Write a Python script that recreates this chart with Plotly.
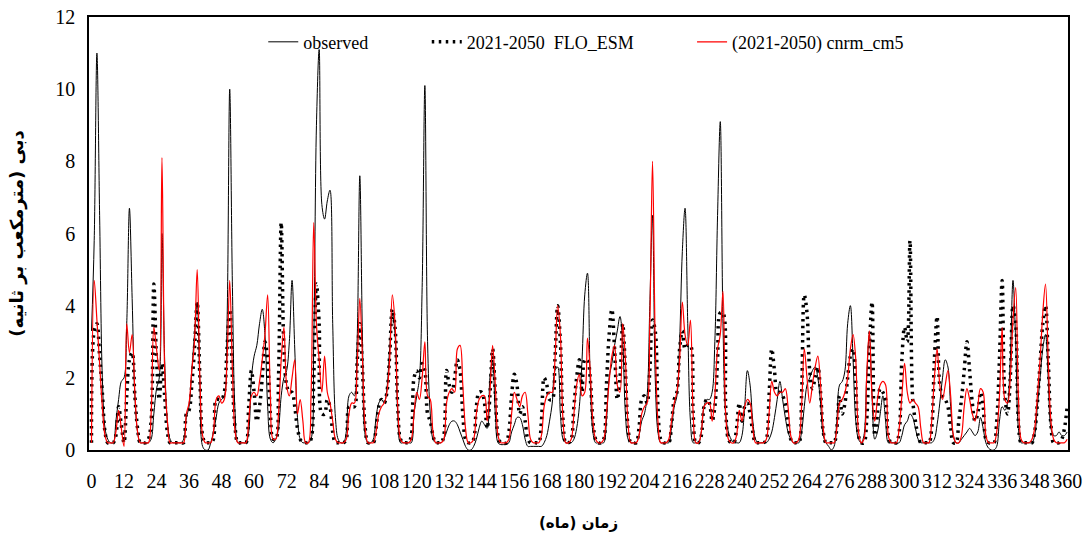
import plotly.graph_objects as go

months = list(range(361))

observed = [
    3.3, 5.8, 11.0, 6.5, 2.0, 0.6, 0.3, 0.2, 0.2, 0.8, 1.4, 1.9,
    2.0, 3.5, 6.7, 4.2, 1.5, 0.5, 0.2, 0.2, 0.2, 0.2, 0.3, 1.0,
    1.7, 2.0, 6.0, 2.5, 0.8, 0.3, 0.2, 0.2, 0.2, 0.2, 0.3, 0.9,
    1.2, 2.2, 3.2, 4.1, 1.8, 0.1, 0.0, 0.0, 0.2, 0.5, 0.9, 1.3,
    1.4, 1.5, 3.5, 10.0, 4.5, 1.0, 0.2, 0.2, 0.2, 0.2, 0.5, 2.0,
    2.6, 2.9, 3.5, 3.9, 3.2, 1.2, 0.3, 0.2, 0.3, 0.6, 1.5, 2.0,
    2.2, 3.0, 4.7, 2.8, 0.9, 0.3, 0.2, 0.2, 0.2, 0.3, 3.0, 9.0,
    11.1, 6.8, 6.4, 6.9, 7.2, 3.5, 0.9, 0.3, 0.2, 0.2, 0.5, 1.5,
    1.6, 1.5, 3.0, 7.6, 3.0, 0.4, 0.2, 0.2, 0.3, 0.9, 1.3, 1.4,
    1.3, 1.7, 2.8, 3.8, 3.2, 1.0, 0.2, 0.2, 0.2, 0.2, 0.2, 1.0,
    1.5, 2.0, 4.5, 10.1, 3.0, 1.0, 0.3, 0.2, 0.2, 0.2, 0.3, 0.5,
    0.7, 0.8, 0.8, 0.7, 0.5, 0.3, 0.1, 0.0, 0.0, 0.1, 0.3, 0.6,
    0.8, 0.7, 0.6, 2.0, 2.5, 1.0, 0.2, 0.15, 0.15, 0.15, 0.2, 0.5,
    0.7, 0.9, 0.9, 0.7, 0.3, 0.1, 0.1, 0.1, 0.1, 0.1, 0.1, 0.2,
    0.4, 0.8, 1.3, 2.2, 2.3, 1.0, 0.3, 0.2, 0.2, 0.2, 0.3, 0.6,
    1.2, 2.5, 4.3, 4.9, 2.0, 0.5, 0.2, 0.2, 0.2, 0.2, 0.8, 2.0,
    2.4, 2.9, 3.3, 3.7, 3.0, 1.0, 0.3, 0.2, 0.2, 0.2, 0.4, 0.8,
    1.0, 1.5, 4.0, 6.5, 2.0, 0.5, 0.2, 0.2, 0.2, 0.2, 0.6, 1.2,
    1.5, 3.0, 5.5, 6.7, 3.5, 0.8, 0.2, 0.2, 0.2, 0.5, 1.2, 1.4,
    1.4, 1.6, 3.0, 6.5, 9.1, 3.5, 1.0, 0.5, 0.3, 0.2, 0.2, 0.2,
    0.4, 1.2, 2.2, 1.8, 0.8, 0.3, 0.2, 0.2, 0.2, 0.2, 0.3, 0.5,
    0.9, 1.4, 1.9, 1.4, 0.9, 0.5, 0.3, 0.2, 0.2, 0.2, 0.5, 1.2,
    1.8, 2.0, 2.2, 2.3, 2.0, 1.3, 0.4, 0.2, 0.1, 0.0, 0.1, 0.8,
    1.8, 1.9, 2.2, 3.5, 4.0, 2.5, 0.8, 0.3, 0.2, 0.4, 2.0, 3.2,
    1.5, 0.3, 0.5, 1.0, 1.5, 0.8, 0.2, 0.2, 0.2, 0.2, 0.2, 0.4,
    0.7, 0.8, 1.0, 0.9, 0.6, 0.3, 0.2, 0.2, 0.2, 0.2, 0.2, 0.3,
    0.7, 1.3, 2.0, 2.5, 2.3, 1.2, 0.4, 0.2, 0.2, 0.3, 0.4, 0.5,
    0.6, 0.5, 0.4, 0.5, 0.9, 0.6, 0.2, 0.05, 0.0, 0.0, 0.1, 0.8,
    1.2, 1.1, 1.3, 2.5, 4.7, 3.0, 0.6, 0.2, 0.2, 0.2, 0.2, 0.2,
    0.4, 1.2, 2.0, 2.8, 3.2, 2.0, 0.6, 0.4, 0.4, 0.5, 0.4, 0.4,
    0.5,
]

flo_esm = [
    0.2, 3.3, 3.5, 2.6, 1.6, 0.5, 0.2, 0.2, 0.2, 0.4, 1.2, 0.7,
    0.2, 1.5, 2.5, 2.7, 1.5, 0.6, 0.2, 0.2, 0.2, 0.3, 0.8, 4.6,
    2.5, 1.4, 2.4, 1.5, 0.5, 0.2, 0.2, 0.2, 0.2, 0.2, 0.2, 1.0,
    1.1, 1.8, 2.8, 4.1, 2.0, 0.4, 0.2, 0.2, 0.2, 0.3, 1.4, 1.4,
    1.4, 1.6, 2.8, 3.9, 2.0, 0.6, 0.2, 0.2, 0.2, 0.2, 1.2, 2.2,
    1.6, 0.8, 1.2, 2.0, 3.0, 2.5, 1.0, 0.3, 0.3, 2.0, 6.3, 2.8,
    1.8, 1.6, 1.6, 1.2, 0.6, 0.3, 0.2, 0.2, 0.2, 0.3, 2.0, 4.6,
    3.5, 1.0, 1.0, 1.4, 1.2, 0.5, 0.2, 0.2, 0.2, 0.2, 0.3, 1.2,
    1.2, 1.2, 2.4, 3.5, 2.2, 0.6, 0.2, 0.2, 0.2, 0.6, 1.2, 1.4,
    1.3, 1.6, 2.6, 3.9, 3.4, 1.2, 0.3, 0.2, 0.2, 0.2, 0.4, 2.0,
    2.2, 2.0, 2.4, 2.2, 1.0, 0.8, 0.4, 0.2, 0.2, 0.2, 0.4, 2.2,
    1.8, 1.6, 2.0, 2.5, 2.2, 1.0, 0.3, 0.2, 0.2, 0.3, 1.2, 1.6,
    1.6, 1.3, 0.6, 1.5, 2.8, 1.6, 0.4, 0.2, 0.2, 0.2, 0.5, 1.5,
    2.1, 1.8, 1.0, 1.2, 0.8, 0.3, 0.2, 0.2, 0.2, 0.2, 0.8, 2.0,
    1.8, 1.4, 1.4, 2.5, 4.0, 3.0, 0.8, 0.2, 0.2, 0.3, 1.2, 2.0,
    2.5, 1.6, 2.5, 2.5, 2.0, 0.8, 0.3, 0.2, 0.2, 0.3, 1.8, 3.2,
    3.9, 2.8, 1.4, 2.0, 3.5, 2.2, 0.6, 0.2, 0.2, 0.2, 0.6, 1.4,
    1.5, 1.3, 2.2, 3.6, 3.3, 1.2, 0.3, 0.2, 0.2, 0.2, 0.7, 1.4,
    1.6, 2.8, 3.3, 2.8, 2.9, 2.9, 1.0, 0.2, 0.2, 0.4, 1.2, 1.4,
    1.3, 0.8, 1.2, 2.5, 3.8, 3.8, 1.2, 0.3, 0.2, 0.2, 0.6, 1.3,
    0.8, 1.2, 1.3, 1.0, 0.5, 0.2, 0.2, 0.2, 0.2, 0.3, 1.5, 2.8,
    2.2, 1.6, 1.6, 1.5, 1.3, 0.8, 0.3, 0.2, 0.2, 0.2, 1.5, 4.3,
    3.8, 2.2, 1.7, 2.0, 2.3, 1.6, 0.5, 0.2, 0.2, 0.2, 0.2, 0.6,
    1.5, 1.0, 1.3, 2.0, 2.6, 2.8, 1.8, 0.4, 0.2, 0.2, 0.8, 2.8,
    4.1, 0.4, 1.0, 1.7, 1.6, 1.4, 0.4, 0.2, 0.2, 0.2, 0.5, 2.5,
    3.4, 3.0, 5.8, 1.4, 0.8, 0.4, 0.2, 0.2, 0.2, 0.2, 0.6, 2.5,
    3.7, 1.8, 1.5, 1.4, 1.2, 0.6, 0.2, 0.2, 0.8, 1.4, 2.2, 3.0,
    2.2, 1.3, 0.8, 1.0, 1.6, 1.2, 0.3, 0.2, 0.2, 0.2, 0.8, 2.5,
    4.7, 1.5, 1.0, 2.0, 4.0, 3.5, 0.8, 0.2, 0.2, 0.2, 0.2, 0.2,
    0.5, 1.3, 2.4, 3.5, 4.0, 2.5, 0.7, 0.2, 0.2, 0.2, 0.3, 0.6,
    1.2,
]

cnrm_cm5 = [
    0.2, 4.7, 3.6, 2.4, 1.2, 0.4, 0.2, 0.2, 0.2, 0.5, 1.1, 0.6,
    0.1, 3.5, 2.7, 3.2, 1.6, 0.5, 0.2, 0.2, 0.2, 0.2, 1.0, 3.4,
    2.8, 2.2, 8.1, 2.2, 0.8, 0.2, 0.2, 0.2, 0.2, 0.2, 0.2, 1.0,
    1.3, 2.2, 3.0, 5.0, 2.0, 0.4, 0.2, 0.2, 0.2, 0.5, 1.4, 1.5,
    1.3, 1.4, 2.5, 4.7, 2.2, 0.5, 0.2, 0.2, 0.2, 0.2, 0.8, 1.5,
    1.6, 1.5, 1.9, 2.5, 3.2, 4.3, 1.5, 0.3, 0.3, 1.0, 2.5, 3.4,
    1.8, 1.5, 2.0, 2.5, 1.0, 1.4, 0.8, 0.2, 0.2, 1.5, 6.3, 3.5,
    2.5, 1.6, 2.6, 1.6, 1.3, 0.8, 0.3, 0.2, 0.2, 0.2, 0.3, 1.0,
    1.3, 1.3, 2.3, 4.2, 2.5, 0.6, 0.2, 0.2, 0.2, 0.5, 1.0, 1.2,
    1.3, 1.6, 2.5, 4.3, 3.5, 1.2, 0.3, 0.2, 0.2, 0.2, 0.3, 1.0,
    1.6, 1.4, 2.0, 3.0, 1.5, 1.4, 0.5, 0.2, 0.2, 0.2, 0.3, 1.3,
    1.6, 1.7, 1.6, 2.8, 2.9, 1.8, 0.6, 0.2, 0.2, 0.3, 1.0, 1.4,
    1.5, 1.5, 0.8, 1.6, 2.9, 1.8, 0.4, 0.2, 0.2, 0.2, 0.3, 1.0,
    1.6, 1.4, 1.2, 1.5, 1.6, 1.0, 0.3, 0.2, 0.2, 0.2, 0.4, 1.2,
    1.5, 1.6, 1.6, 2.5, 4.0, 3.2, 0.8, 0.2, 0.2, 0.3, 1.0, 1.8,
    2.1, 1.5, 1.6, 3.1, 2.2, 0.8, 0.3, 0.2, 0.2, 0.3, 1.0, 1.9,
    2.6, 2.9, 1.8, 1.6, 3.5, 2.5, 0.7, 0.2, 0.2, 0.2, 0.4, 1.0,
    1.2, 1.3, 3.5, 8.0, 3.0, 0.8, 0.2, 0.2, 0.2, 0.3, 0.8, 1.3,
    1.6, 2.5, 4.1, 3.2, 2.9, 3.6, 1.0, 0.2, 0.2, 0.5, 1.2, 1.3,
    1.3, 0.8, 1.5, 2.8, 3.2, 4.4, 1.0, 0.3, 0.2, 0.2, 0.4, 1.1,
    0.8, 1.2, 1.4, 1.3, 0.6, 0.2, 0.2, 0.2, 0.2, 0.3, 1.0, 1.9,
    1.6, 1.5, 1.6, 1.6, 1.7, 1.2, 0.4, 0.2, 0.2, 0.3, 1.2, 2.8,
    2.0, 1.3, 1.8, 2.3, 2.6, 1.8, 0.6, 0.2, 0.2, 0.2, 0.2, 0.6,
    1.3, 1.4, 1.6, 2.0, 2.8, 3.2, 2.5, 0.5, 0.2, 0.3, 2.0, 3.3,
    1.5, 0.8, 1.4, 1.8, 1.9, 1.8, 0.4, 0.2, 0.2, 0.2, 0.6, 1.5,
    2.4, 1.6, 1.3, 1.4, 1.3, 1.2, 0.6, 0.2, 0.2, 0.2, 0.8, 2.0,
    2.8, 1.8, 1.4, 1.8, 2.2, 1.5, 0.4, 0.2, 0.2, 0.4, 1.2, 1.7,
    1.4, 1.0, 0.8, 1.2, 1.7, 1.6, 0.4, 0.2, 0.2, 0.2, 0.5, 1.5,
    3.4, 1.4, 1.3, 2.0, 3.6, 4.5, 1.5, 0.3, 0.2, 0.2, 0.2, 0.3,
    0.6, 1.5, 2.5, 3.8, 4.6, 2.5, 0.8, 0.3, 0.2, 0.2, 0.2, 0.2,
    0.3,
]

x_ticks = list(range(0, 361, 12))
x_ticklabels = [str(v) for v in x_ticks]
y_ticks = [0, 2, 4, 6, 8, 10, 12]

series_names = ["observed", "2021-2050\u00a0\u00a0FLO_ESM", "(2021-2050) cnrm_cm5"]
x_title = "زمان (ماه)"
y_title = "دبی (مترمکعب بر ثانیه)"

FONT = "Liberation Serif, Times New Roman, serif"
AR_FONT = "DejaVu Sans, Noto Sans, sans-serif"

fig = go.Figure()
fig.add_trace(go.Scatter(
    x=months, y=observed, mode="lines", name=series_names[0], legend="legend",
    line=dict(color="black", width=1, shape="spline"),
))
fig.add_trace(go.Scatter(
    x=months, y=flo_esm, mode="lines", name=series_names[1], legend="legend2",
    line=dict(color="black", width=3.5, dash="2.5px,4.5px", shape="spline"),
))
fig.add_trace(go.Scatter(
    x=months, y=cnrm_cm5, mode="lines", name=series_names[2], legend="legend3",
    line=dict(color="#ff0000", width=1.2, shape="spline"),
))

leg_common = dict(yanchor="middle", xanchor="left", y=0.942,
                  bgcolor="rgba(0,0,0,0)", borderwidth=0,
                  font=dict(family=FONT, size=18, color="black"))

fig.update_layout(
    width=1089, height=540,
    margin=dict(l=89, r=21, t=17, b=90, autoexpand=False),
    paper_bgcolor="white", plot_bgcolor="white",
    showlegend=True,
    legend=dict(x=0.178, **leg_common),
    legend2=dict(x=0.345, **leg_common),
    legend3=dict(x=0.616, **leg_common),
    xaxis=dict(
        range=[-0.92, 360.3], tickmode="array", tickvals=x_ticks, ticktext=x_ticklabels,
        tickangle=0, showgrid=False, zeroline=False, showline=True, linecolor="black",
        linewidth=2, mirror=True, ticks="", ticklabelstandoff=12, automargin=False,
        tickfont=dict(family=FONT, size=20, color="black"),
        title=dict(text="<b>" + x_title + "</b>", font=dict(family=AR_FONT, size=15, color="black"),
                   standoff=26),
    ),
    yaxis=dict(
        range=[0, 12], tickmode="array", tickvals=y_ticks, showgrid=False, zeroline=False,
        showline=True, linecolor="black", linewidth=1.5, mirror=True, ticks="",
        ticklabelstandoff=8, automargin=False,
        tickfont=dict(family=FONT, size=20, color="black"),
        title=dict(text="<b>" + y_title + "</b>", font=dict(family=AR_FONT, size=18, color="black"),
                   standoff=27),
    ),
)

fig.write_html("out.html", config={"displayModeBar": False},
               post_script="document.body.style.margin='0';")
